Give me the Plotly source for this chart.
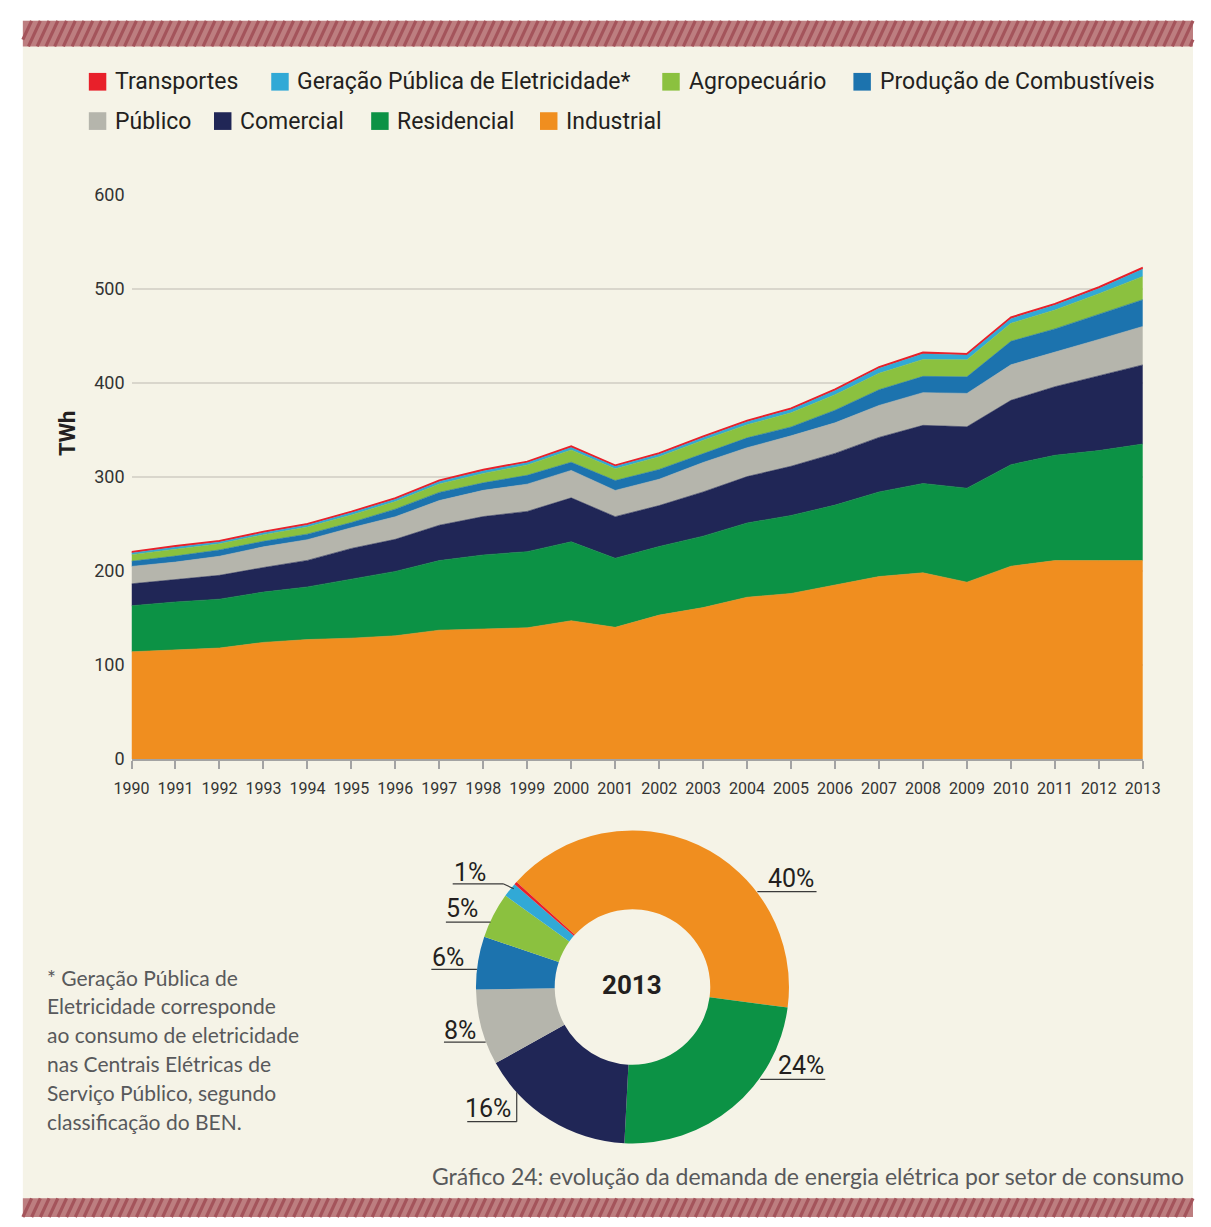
import plotly.graph_objects as go

W, H = 1211, 1227


def px(x):
    return x / W


def py(y):
    return 1 - y / H


# ---------------- data (TWh) ----------------
years = list(range(1990, 2014))
year_labels = [str(y) for y in years]

industrial = [114, 116, 118, 124, 127, 128.5, 131, 137, 138, 139.5, 147, 140,
              153, 161, 172, 176, 185, 194, 198, 188, 205, 211, 211, 211]
residencial = [49, 51, 52, 53.5, 56, 63, 68.5, 74, 79, 81, 84, 73.5,
               73, 76, 79, 83, 85, 90, 95, 100, 108, 112, 117, 124]
comercial = [23.3, 23.4, 25.3, 26.1, 28.2, 32.4, 34.1, 37.6, 40.8, 42.8, 46.7, 44.2,
             43.5, 47, 49.3, 52.3, 55, 58, 61.8, 65.3, 68.4, 72.9, 79.3, 84.1]
publico = [18.5, 19, 20.3, 22, 22, 22, 24, 26.2, 27.9, 29, 29.2, 27.9,
           28, 31.3, 30.7, 32.4, 32.5, 34, 34.8, 35.5, 37.8, 37.2, 38.9, 40.9]
producao = [5.5, 6.4, 6.7, 5.9, 5.9, 5.6, 8.1, 8.7, 8, 9.4, 8.7, 10.5,
            10.4, 9.7, 10.5, 9.4, 13.4, 16.7, 17.3, 17.6, 25, 24.3, 27.1, 28.5]
agropecuario = [7, 7.6, 6.5, 7, 7.5, 8, 8, 9, 10, 11, 13, 12.5,
                13.5, 14, 14, 15, 16.5, 17.4, 18, 18.1, 19.1, 20.1, 21.5, 24.7]
geracao = [1.8, 2.0, 2.0, 2.2, 2.3, 2.5, 2.6, 2.7, 2.8, 2.5, 2.8, 2.6,
           2.8, 3.0, 3.2, 3.5, 4.5, 5.5, 6.0, 5.0, 5.0, 5.2, 5.5, 7.8]
transportes = [1.2, 1.2, 1.2, 1.2, 1.2, 1.2, 1.2, 1.2, 1.2, 1.2, 1.2, 1.2,
               1.2, 1.3, 1.3, 1.3, 1.4, 1.4, 1.5, 1.5, 1.5, 1.5, 1.6, 1.6]

y_ticks = [0, 100, 200, 300, 400, 500, 600]
pie_pct_labels = ["40%", "24%", "16%", "8%", "6%", "5%", "1%"]

# ---------------- styles ----------------
C_IND = "#F08E1F"
C_RES = "#0C9245"
C_COM = "#202656"
C_PUB = "#B5B5AC"
C_PRO = "#1C73AE"
C_AGR = "#8BC13F"
C_GER = "#31A9D6"
C_TRA = "#E8202A"
BG = "#F5F3E7"
TXT = "#231F20"
GREY_TXT = "#58595B"

series = [
    ("Industrial", industrial, C_IND),
    ("Residencial", residencial, C_RES),
    ("Comercial", comercial, C_COM),
    ("Público", publico, C_PUB),
    ("Produção de Combustíveis", producao, C_PRO),
    ("Agropecuário", agropecuario, C_AGR),
    ("Geração Pública de Eletricidade*", geracao, C_GER),
    ("Transportes", transportes, C_TRA),
]

fig = go.Figure()
for name, vals, col in series:
    lw = 1.6 if name == "Transportes" else 0.6
    fig.add_trace(go.Scatter(
        x=years, y=vals, name=name, stackgroup="one", mode="lines",
        line=dict(width=lw, color=col), fillcolor=col, showlegend=False,
        xaxis="x", yaxis="y",
    ))

# donut for 2013
pie_names = [s[0] for s in series]
pie_vals = [s[1][-1] for s in series]
pie_cols = [s[2] for s in series]
cx, cy, R = 633.3, 993, 161.3
fig.add_trace(go.Pie(
    labels=pie_names, values=pie_vals, marker=dict(colors=pie_cols, line=dict(width=0)),
    hole=0.497, sort=False, direction="clockwise", rotation=-47.8,
    textinfo="none", showlegend=False,
    domain=dict(x=[px(cx - R), px(cx + R)], y=[py(cy + R), py(cy - R)]),
))

shapes = []
annotations = []

# background panel
shapes.append(dict(type="rect", xref="paper", yref="paper", x0=px(5), x1=px(W), y0=py(H), y1=py(10),
                   fillcolor=BG, line=dict(width=0), layer="below"))


# hatched bands
def hatch(y0, y1, step=9.0, slant=0.47):
    shapes.append(dict(type="rect", xref="paper", yref="paper", x0=px(5), x1=px(W),
                       y0=py(y1), y1=py(y0), fillcolor="#BD7E80", line=dict(width=0), layer="below"))
    h = y1 - y0
    dx = h * slant
    x = 5 - dx
    while x < W:
        xa, ya, xb, yb = x, y1, x + dx, y0
        if xa < 5:
            t = (5 - xa) / dx
            xa, ya = 5, y1 - t * h
        if xb > W:
            t = (W - x) / dx
            xb, yb = W, y1 - t * h
        if xb > xa:
            shapes.append(dict(type="line", xref="paper", yref="paper", x0=px(xa), y0=py(ya),
                               x1=px(xb), y1=py(yb), line=dict(color="#A4545B", width=3.2), layer="below"))
        x += step


hatch(10, 36)
hatch(1208, 1227)

# legend (custom)
legend_items = [
    ("Transportes", C_TRA, 73, 72), ("Geração Pública de Eletricidade*", C_GER, 261, 72),
    ("Agropecuário", C_AGR, 664, 72), ("Produção de Combustíveis", C_PRO, 861, 72),
    ("Público", C_PUB, 73, 112), ("Comercial", C_COM, 202, 112),
    ("Residencial", C_RES, 364, 112), ("Industrial", C_IND, 538, 112),
]
for name, col, x0, yc in legend_items:
    shapes.append(dict(type="rect", xref="paper", yref="paper", x0=px(x0), x1=px(x0 + 18),
                       y0=py(yc + 9), y1=py(yc - 9), fillcolor=col, line=dict(width=0)))
    annotations.append(dict(text=name, x=px(x0 + 25), y=py(yc), xref="paper", yref="paper",
                            xanchor="left", yanchor="middle", showarrow=False,
                            font=dict(family="Roboto", size=23, color=TXT)))

# y title
annotations.append(dict(text="<b>TWh</b>", x=px(51), y=py(430), xref="paper", yref="paper",
                        textangle=-90, showarrow=False, xanchor="center", yanchor="middle",
                        font=dict(family="Roboto", size=22, color=TXT)))

# donut labels
pie_label_pos = [(797, 883), (807.5, 1073), (484.5, 1117), (455.5, 1037), (443.5, 963), (457.5, 913.5), (466, 876)]
for txt, (x, y) in zip(pie_pct_labels, pie_label_pos):
    annotations.append(dict(text=txt, x=px(x), y=py(y), xref="paper", yref="paper", showarrow=False,
                            xanchor="center", yanchor="middle",
                            font=dict(family="Roboto", size=25, color=TXT)))
leaders = [
    [(762, 896), (823, 896)],
    [(765, 1087), (832, 1087)],
    [(463, 1130), (514, 1130), (514, 1100)],
    [(439, 1049), (482, 1049)],
    [(426, 975), (473, 975)],
    [(441, 927), (487, 927)],
    [(448, 888), (500, 888), (511, 893)],
]
for pts in leaders:
    for (xa, ya), (xb, yb) in zip(pts[:-1], pts[1:]):
        shapes.append(dict(type="line", xref="paper", yref="paper", x0=px(xa), y0=py(ya),
                           x1=px(xb), y1=py(yb), line=dict(color="#3A3A3A", width=1.2)))

annotations.append(dict(text="<b>2013</b>", x=px(cx), y=py(991), xref="paper", yref="paper",
                        showarrow=False, xanchor="center", yanchor="middle",
                        font=dict(family="Roboto", size=26, color=TXT)))

# footnote
foot_lines = ["* Geração Pública de", "Eletricidade corresponde", "ao consumo de eletricidade",
              "nas Centrais Elétricas de", "Serviço Público, segundo", "classificação do BEN."]
for i, line in enumerate(foot_lines):
    annotations.append(dict(text=line, x=px(28), y=py(983 + i * 29.3), xref="paper", yref="paper",
                            showarrow=False, xanchor="left", yanchor="middle",
                            font=dict(family="Lato", size=21, color=GREY_TXT)))

# caption
annotations.append(dict(text="Gráfico 24: evolução da demanda de energia elétrica por setor de consumo",
                        x=px(1204), y=py(1185), xref="paper", yref="paper", showarrow=False,
                        xanchor="right", yanchor="middle",
                        font=dict(family="Lato", size=23, color=GREY_TXT)))

fig.update_layout(
    autosize=True,
    margin=dict(l=0, r=0, t=0, b=0, pad=0),
    paper_bgcolor="white", plot_bgcolor="rgba(0,0,0,0)",
    shapes=shapes, annotations=annotations,
    xaxis=dict(domain=[px(117), px(1159.3)], range=[1990, 2013], tickvals=years, ticktext=year_labels,
               showgrid=False, zeroline=False, showline=True, linecolor="#A3A3A3", linewidth=1.5,
               ticks="outside", ticklen=8, tickcolor="#A3A3A3", tickwidth=1.5,
               ticklabelstandoff=6,
               tickfont=dict(family="Roboto", size=16, color="#333333"), fixedrange=True),
    yaxis=dict(domain=[py(761), py(187)], range=[0, 600], tickvals=y_ticks,
               showgrid=True, gridcolor="#D9D6CC", gridwidth=1.5, zeroline=False, showline=False,
               ticks="", ticklabelstandoff=6,
               tickfont=dict(family="Roboto", size=18, color="#333333"), fixedrange=True),
    showlegend=False,
)

fig.write_html(
    "out.html",
    config={"displayModeBar": False, "responsive": True},
    default_width="100vw",
    default_height="100vh",
    post_script="document.body.style.margin='0';document.body.style.padding='0';"
                "document.documentElement.style.overflow='hidden';",
)
